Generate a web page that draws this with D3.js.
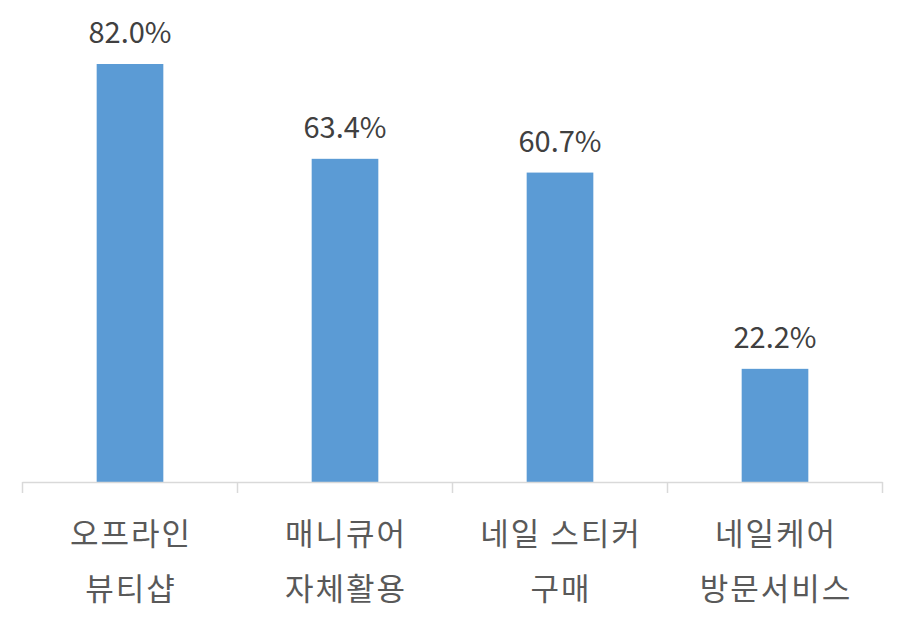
<!DOCTYPE html>
<html><head><meta charset="utf-8">
<script src="https://cdn.jsdelivr.net/npm/d3@7"></script>
<style>body{margin:0;background:#fff}</style>
</head><body>
<svg id="c" width="905" height="626"></svg>
<script>
const categories = [["오프라인","뷰티샵"],["매니큐어","자체활용"],["네일 스티커","구매"],["네일케어","방문서비스"]];
const values = [82.0, 63.4, 60.7, 22.2];
const labels = ["82.0%","63.4%","60.7%","22.2%"];

const svg = d3.select("#c");
const font = "'Noto Sans CJK KR','Noto Sans',sans-serif";
const x = d3.scaleBand().domain(d3.range(values.length)).range([22.5, 882.5]).paddingInner(0.69).paddingOuter(0.345);
const y = d3.scaleLinear().domain([0, 82]).range([482, 64]);

svg.selectAll("rect.bar").data(values).enter().append("rect")
  .attr("x",(d,i)=>x(i)).attr("width",x.bandwidth())
  .attr("y",d=>y(d)).attr("height",d=>y(0)-y(d))
  .attr("fill","#5B9BD5");

// axis
const step = (882.5-22.5)/values.length;
const ticks = d3.range(values.length+1).map(i=>22.5+i*step);
svg.append("line").attr("x1",22.5).attr("x2",882.5).attr("y1",482.5).attr("y2",482.5)
  .attr("stroke","#D9D9D9").attr("stroke-width",1.5);
svg.selectAll("line.tick").data(ticks).enter().append("line")
  .attr("x1",d=>d).attr("x2",d=>d).attr("y1",482).attr("y2",493)
  .attr("stroke","#D9D9D9").attr("stroke-width",1.5);

svg.selectAll("text.val").data(values).enter().append("text")
  .attr("x",(d,i)=>x(i)+x.bandwidth()/2).attr("y",d=>y(d)-21)
  .attr("text-anchor","middle").attr("font-family",font).attr("font-size",29)
  .attr("fill","#404040").text((d,i)=>labels[i]);

const g = svg.selectAll("text.cat").data(categories).enter().append("text")
  .attr("text-anchor","middle").attr("font-family",font).attr("font-size",31)
  .attr("letter-spacing",2).attr("fill","#595959");
g.selectAll("tspan").data((d,i)=>d.map(s=>({s,i}))).enter().append("tspan")
  .attr("x",d=>x(d.i)+x.bandwidth()/2+1).attr("y",(d,j)=>545+j*55).text(d=>d.s);
</script>
</body></html>
